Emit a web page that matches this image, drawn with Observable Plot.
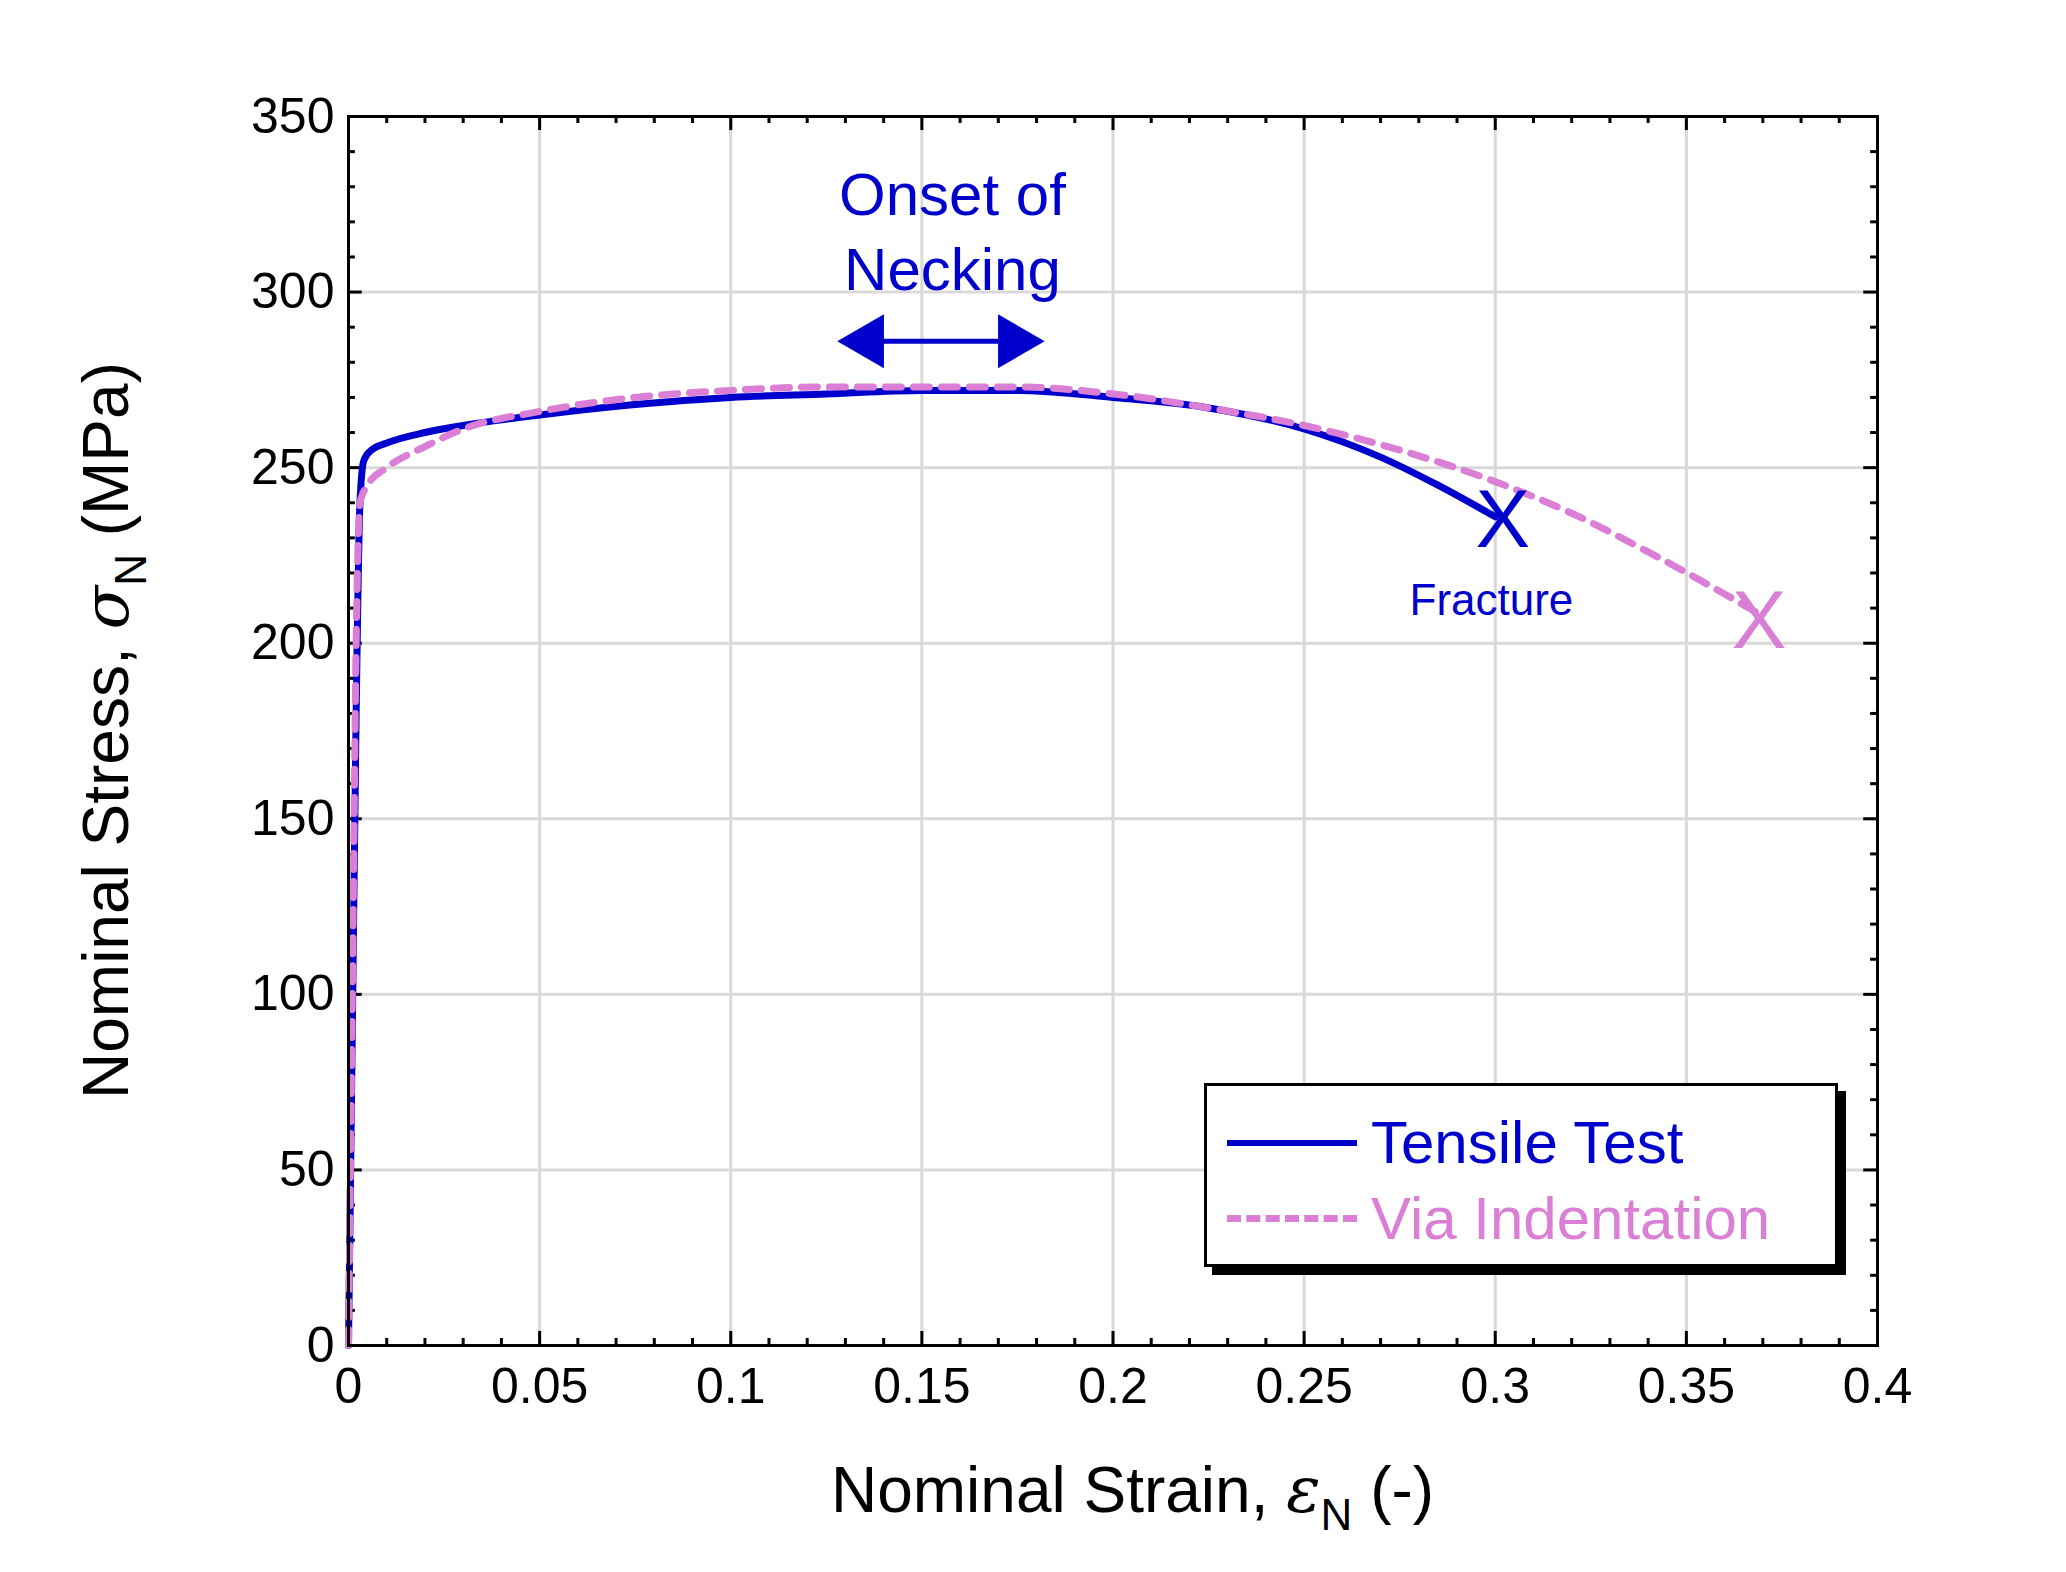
<!DOCTYPE html>
<html><head><meta charset="utf-8">
<script src="https://cdn.jsdelivr.net/npm/d3@7"></script>
<script src="https://cdn.jsdelivr.net/npm/@observablehq/plot@0.6"></script>
<style>body{margin:0;background:#fff;font-family:"Liberation Sans",Arial,sans-serif}#wrap{position:relative;width:2066px;height:1572px}
#leg{position:absolute;left:1204px;top:1083px;width:634px;height:184px;border:3px solid #000;background:#fff;box-shadow:8px 8px 0 #000;box-sizing:border-box;font-size:60px}
.row{position:absolute;left:20px;display:flex;align-items:center}
.sw{width:130px;margin-right:14px;height:0}
</style></head><body><div id="wrap"></div>
<script>
const tensileX=[0,0.001,0.002,0.003,0.004,0.006,0.01,0.02,0.03,0.05,0.075,0.1,0.125,0.15,0.175,0.2,0.225,0.25,0.27,0.285,0.3];
const tensileY=[0,90,180,240,252,255,257,260,262,265,268,270,271,272,272,270,267,261,253,245,236];
const indentX=[0,0.001,0.002,0.003,0.005,0.01,0.02,0.03,0.05,0.075,0.1,0.125,0.15,0.175,0.2,0.225,0.25,0.275,0.3,0.32,0.34,0.36,0.368];
const indentY=[0,100,200,240,245,250,256,261,266,270,272,273,273,273,271,267,262,255,246,237,226,214,209];
const xTicks=[0,0.05,0.1,0.15,0.2,0.25,0.3,0.35,0.4];
const xTickLabels=["0","0.05","0.1","0.15","0.2","0.25","0.3","0.35","0.4"];
const yTicks=[0,50,100,150,200,250,300,350];
const blue="#0000CC", pink="#DA7FD5";
const tens=tensileX.map((x,i)=>({x,y:tensileY[i]}));
const ind=indentX.map((x,i)=>({x,y:indentY[i]}));
const xMinor=d3.range(0,41).map(i=>i/100), yMinor=d3.range(0,36).map(i=>i*10);
const W=2066,H=1572;
const plot=Plot.plot({width:W,height:H,marginLeft:348,marginRight:189,marginTop:116,marginBottom:227,
 style:{fontFamily:"Liberation Sans, Arial, sans-serif",background:"#fff",fontSize:"50px",color:"#000"},
 x:{domain:[0,0.4],ticks:xTicks,tickFormat:(d,i)=>xTickLabels[i],label:null,tickSize:0,tickPadding:22},
 y:{domain:[0,350],ticks:yTicks,label:null,tickSize:0,tickPadding:14},
 marks:[
  Plot.gridX(xTicks,{stroke:"#d9d9d9",strokeOpacity:1,strokeWidth:3}),
  Plot.gridY(yTicks,{stroke:"#d9d9d9",strokeOpacity:1,strokeWidth:3}),
  Plot.ruleX(xMinor,{y1:0,y2:d=>Math.round(d*100)%5===0?4:2,stroke:"#000",strokeWidth:3}),
  Plot.ruleX(xMinor,{y1:350,y2:d=>Math.round(d*100)%5===0?346:348,stroke:"#000",strokeWidth:3}),
  Plot.ruleY(yMinor,{x1:0,x2:d=>d%50===0?0.0036:0.0018,stroke:"#000",strokeWidth:3}),
  Plot.ruleY(yMinor,{x1:0.4,x2:d=>d%50===0?0.3964:0.3982,stroke:"#000",strokeWidth:3}),
  Plot.line(tens,{x:"x",y:"y",stroke:blue,strokeWidth:7,curve:"monotone-x"}),
  Plot.line(ind,{x:"x",y:"y",stroke:pink,strokeWidth:7,strokeDasharray:"16,12",curve:"monotone-x"}),
  Plot.text([{x:0.302,y:235,t:"X"}],{x:"x",y:"y",text:"t",fill:blue,fontSize:82}),
  Plot.text([{x:0.369,y:206,t:"X"}],{x:"x",y:"y",text:"t",fill:pink,fontSize:82}),
  Plot.text([{x:0.299,y:212,t:"Fracture"}],{x:"x",y:"y",text:"t",fill:blue,fontSize:44}),
  Plot.text([{x:0.158,y:318,t:"Onset of\nNecking"}],{x:"x",y:"y",text:"t",fill:blue,fontSize:60,lineHeight:1.25}),
  Plot.ruleY([286],{x1:0.138,x2:0.172,stroke:blue,strokeWidth:5}),
  Plot.dot([{x:0.136,y:286}],{x:"x",y:"y",symbol:"triangle",r:20,fill:blue,rotate:-90}),
  Plot.dot([{x:0.174,y:286}],{x:"x",y:"y",symbol:"triangle",r:20,fill:blue,rotate:90}),
  Plot.frame({stroke:"#000",strokeWidth:3})
 ]});
const svg=d3.select(plot);
const xl=svg.append("text").attr("x",(348+1877)/2+20).attr("y",1512).attr("text-anchor","middle").attr("font-size",64).attr("fill","#000");
xl.append("tspan").text("Nominal Strain, ");
xl.append("tspan").attr("font-style","italic").attr("font-family","DejaVu Serif").text("ε");
xl.append("tspan").attr("font-size",44).attr("dy",18).text("N");
xl.append("tspan").attr("dy",-18).text(" (-)");
const yl=svg.append("text").attr("transform",`translate(128,${(116+1345)/2}) rotate(-90)`).attr("text-anchor","middle").attr("font-size",64).attr("fill","#000");
yl.append("tspan").text("Nominal Stress, ");
yl.append("tspan").attr("font-style","italic").attr("font-family","DejaVu Serif").text("σ");
yl.append("tspan").attr("font-size",44).attr("dy",18).text("N");
yl.append("tspan").attr("dy",-18).text(" (MPa)");
const wrap=document.getElementById("wrap");
wrap.appendChild(plot);
const leg=document.createElement("div");leg.id="leg";
leg.innerHTML=`<div class="row" style="top:22px;color:${blue}"><div class="sw" style="border-top:6px solid ${blue}"></div>Tensile Test</div>
<div class="row" style="top:98px;color:${pink}"><div class="sw" style="border-top:7px dashed ${pink}"></div>Via Indentation</div>`;
wrap.appendChild(leg);
</script></body></html>
